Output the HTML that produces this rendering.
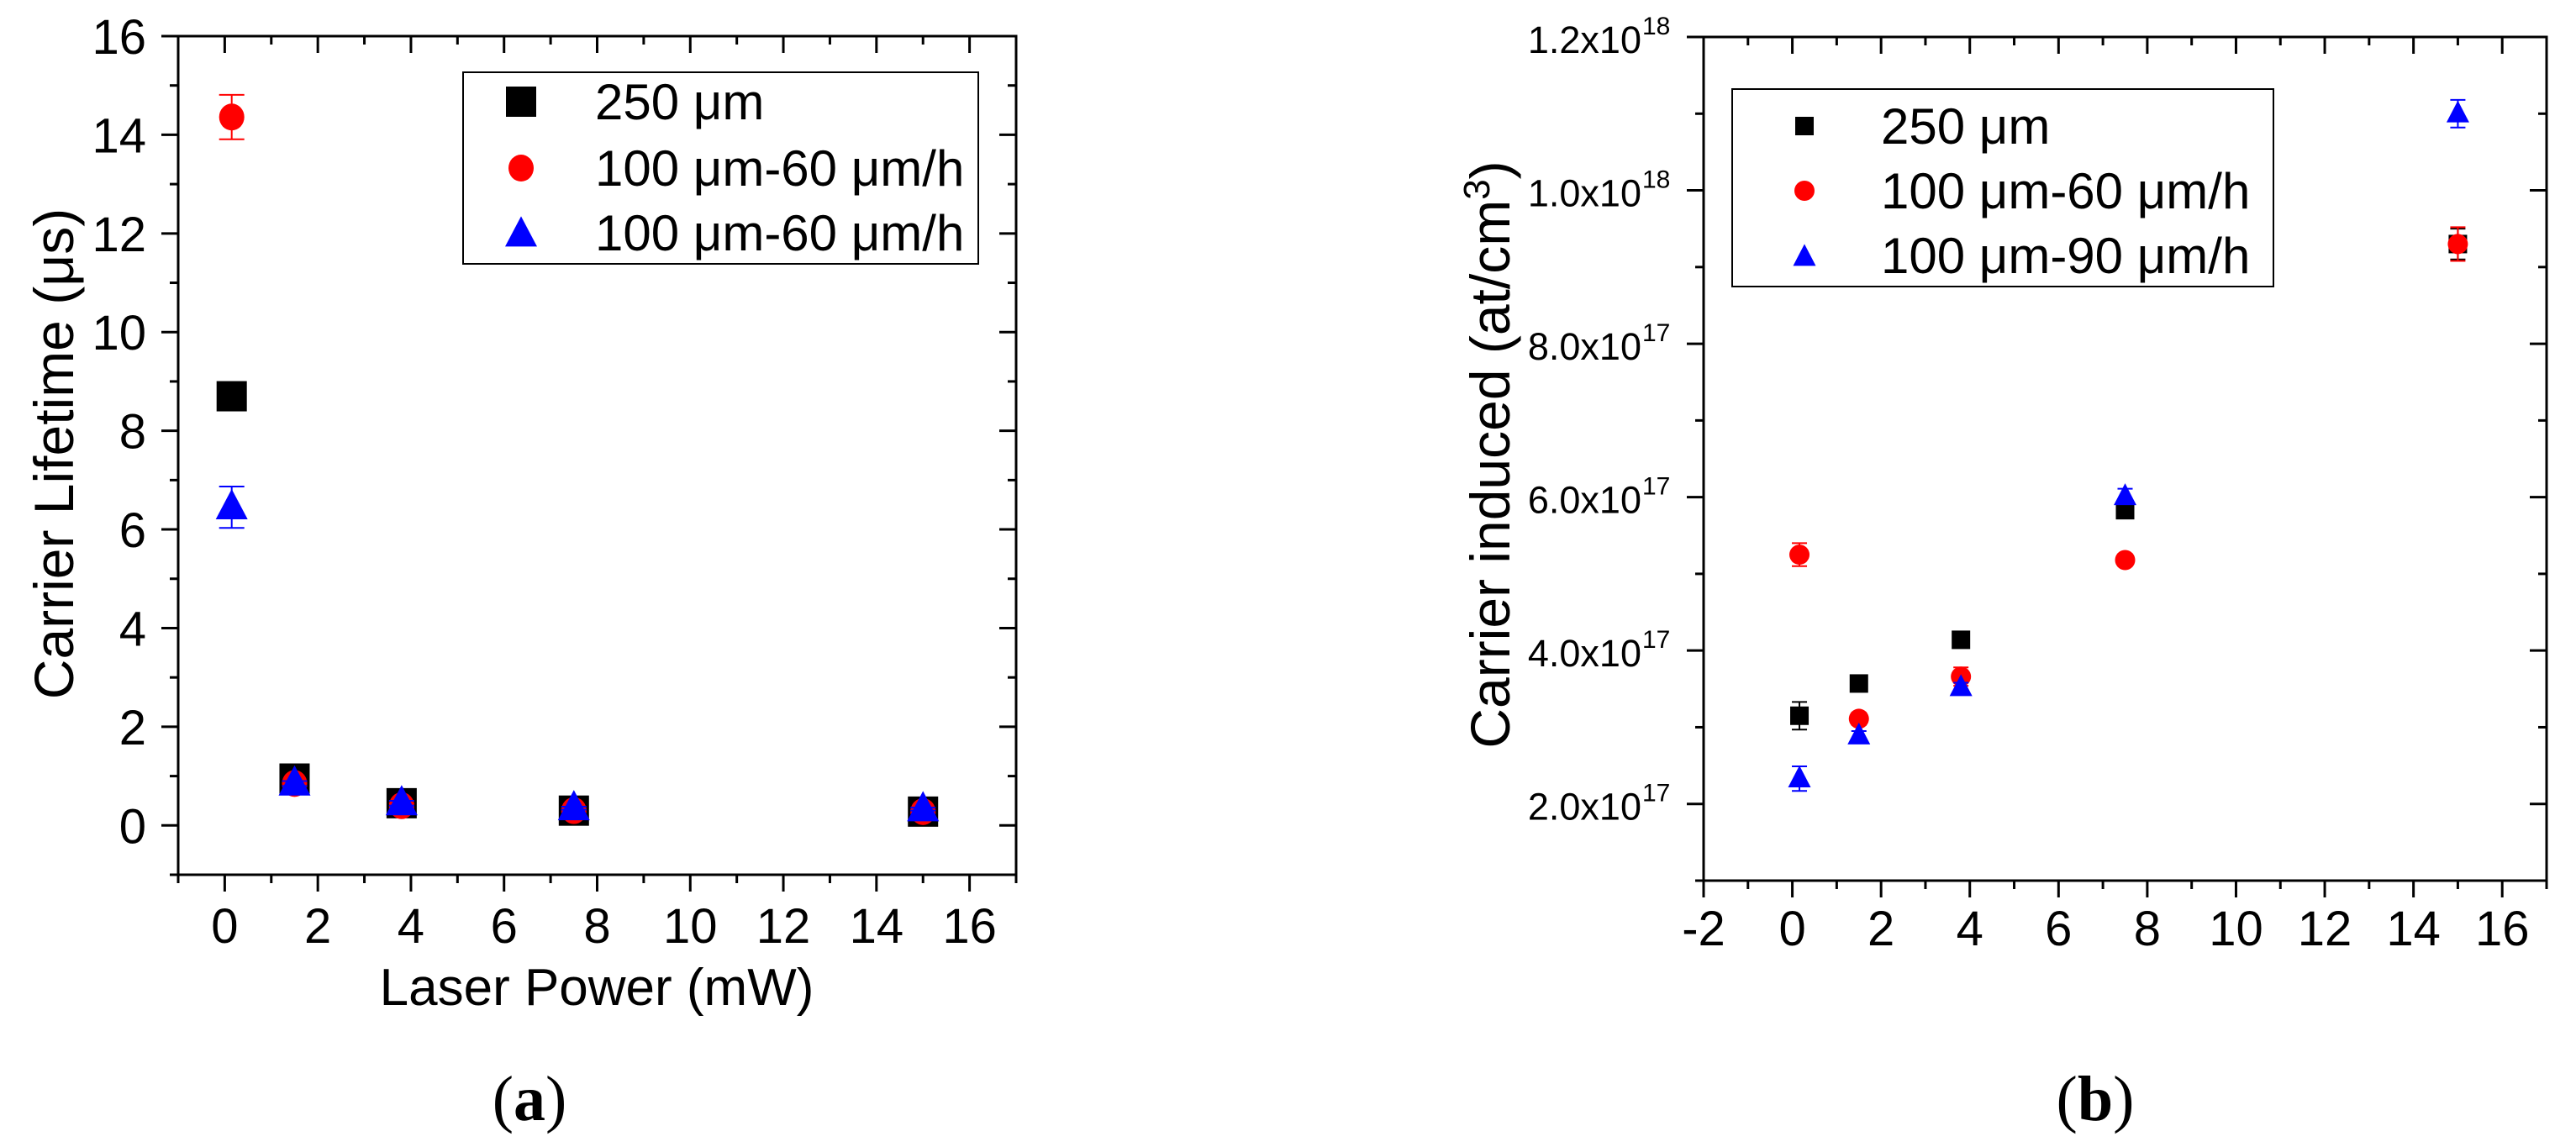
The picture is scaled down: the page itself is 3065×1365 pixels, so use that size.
<!DOCTYPE html>
<html><head><meta charset="utf-8">
<style>
html,body{margin:0;padding:0;background:#fff;}
svg{display:block;}
text{font-family:"Liberation Sans",Arial,sans-serif;fill:#000;}
</style></head>
<body>
<svg id="fig" width="3065" height="1365" viewBox="0 0 3065 1365" xmlns="http://www.w3.org/2000/svg">
<g id="panelA"></g>
<g id="panelB"></g>
<text x="630" y="1333" text-anchor="middle" style="font-family:'Liberation Serif',serif;font-size:76px">(<tspan font-weight="bold">a</tspan>)</text>
<text x="2493" y="1333" text-anchor="middle" style="font-family:'Liberation Serif',serif;font-size:76px">(<tspan font-weight="bold">b</tspan>)</text>
</svg>
<script>
// ---------- Data: panel (a) ----------
const aPower = [0.15, 1.5, 3.8, 7.5, 15];
const aSquare = [8.7, 0.95, 0.45, 0.3, 0.28];
const aCircle = [14.36, 0.85, 0.4, 0.3, 0.28];
const aCircleErr = [0.45, 0.05, 0.05, 0.03, 0.03];
const aTri = [6.45, 0.85, 0.45, 0.35, 0.33];
const aTriErr = [0.42, 0.05, 0.05, 0.03, 0.03];
const aXTicks = [0, 2, 4, 6, 8, 10, 12, 14, 16];
const aYTicks = [0, 2, 4, 6, 8, 10, 12, 14, 16];
// ---------- Data: panel (b) ----------
const bPower = [0.16, 1.5, 3.8, 7.5, 15];
const bSquare = [3.15e17, 3.57e17, 4.14e17, 5.83e17, 9.3e17];
const bSquareErr = [0.18e17, 0.05e17, 0.05e17, 0.05e17, 0.2e17];
const bCircle = [5.25e17, 3.11e17, 3.66e17, 5.18e17, 9.3e17];
const bCircleErr = [0.15e17, 0.08e17, 0.12e17, 0.08e17, 0.22e17];
const bTri = [2.33e17, 2.89e17, 3.52e17, 6.01e17, 1.10e18];
const bTriErr = [0.16e17, 0.06e17, 0.06e17, 0.1e17, 0.18e17];
const bXTicks = [-2, 0, 2, 4, 6, 8, 10, 12, 14, 16];
const bYTickMant = ["2.0", "4.0", "6.0", "8.0", "1.0", "1.2"];
const bYTickExp = ["17", "17", "17", "17", "18", "18"];
const bYTickVals = [2e17, 4e17, 6e17, 8e17, 1e18, 1.2e18];

const NS = "http://www.w3.org/2000/svg";
function mk(parent, tag, attrs, txt) {
  const e = document.createElementNS(NS, tag);
  for (const k in attrs) e.setAttribute(k, attrs[k]);
  if (txt !== undefined) e.textContent = txt;
  parent.appendChild(e);
  return e;
}
function axisFns(x0, x1, px0, px1, y0, y1, py0, py1) {
  return {
    sx: v => px0 + (v - x0) / (x1 - x0) * (px1 - px0),
    sy: v => py0 + (v - y0) / (y1 - y0) * (py1 - py0)
  };
}
function drawFrame(g, L, T, R, B) {
  const f = mk(g, "rect", {x: L, y: T, width: R - L, height: B - T, fill: "none", stroke: "#000", "stroke-width": 3});
  
  
}
function tick(g, x1, y1, x2, y2) {
  mk(g, "line", {x1, y1, x2, y2, stroke: "#000", "stroke-width": 3});
}
function errbar(g, x, yTop, yBot, color, cap) {
  mk(g, "line", {x1: x, y1: yTop, x2: x, y2: yBot, stroke: color, "stroke-width": 2});
  mk(g, "line", {x1: x - cap, y1: yTop, x2: x + cap, y2: yTop, stroke: color, "stroke-width": 2});
  mk(g, "line", {x1: x - cap, y1: yBot, x2: x + cap, y2: yBot, stroke: color, "stroke-width": 2});
}
function square(g, x, y, s) { return mk(g, "rect", {x: x - s / 2, y: y - s / 2, width: s, height: s, fill: "#000"}); }
function circle(g, x, y, rx, ry) { return mk(g, "ellipse", {cx: x, cy: y, rx, ry, fill: "#ff0000"}); }
function tri(g, x, y, w, h) { return mk(g, "polygon", {points: `${x},${y - h * 0.6} ${x - w / 2},${y + h * 0.4} ${x + w / 2},${y + h * 0.4}`, fill: "#0000ff"}); }

// ================= Panel A =================
(function () {
  const g = document.getElementById("panelA");
  const L = 212, R = 1209, T = 43, B = 1041;
  const {sx, sy} = axisFns(-1, 17, L, R, -1, 16, B, T);
  drawFrame(g, L, T, R, B);
  const tg = mk(g, "g", {});
  
  
  for (let v = -1; v <= 17; v++) {
    const x = sx(v), major = v % 2 === 0, len = major ? 20 : 10;
    tick(tg, x, B, x, B + len);
    tick(tg, x, T, x, T + len);
  }
  for (let v = -1; v <= 16; v++) {
    const y = sy(v), major = v % 2 === 0, len = major ? 20 : 10;
    tick(tg, L - len, y, L, y);
    tick(tg, R - len, y, R, y);
  }
  aXTicks.forEach(v => {
    const t = mk(g, "text", {x: sx(v), y: 1122, "text-anchor": "middle", "font-size": 58}, String(v));
    
    
  });
  aYTicks.forEach(v => {
    const t = mk(g, "text", {x: 174, y: sy(v) + 21, "text-anchor": "end", "font-size": 58}, String(v));
    
    
  });
  const xt = mk(g, "text", {x: 710, y: 1196, "text-anchor": "middle", "font-size": 62}, "Laser Power (mW)");
  
  
  const yt = mk(g, "text", {x: 0, y: 0, "text-anchor": "middle", "font-size": 66, transform: "translate(87,540) rotate(-90)"}, "Carrier Lifetime (\u03bcs)");
  
  

  const sg = mk(g, "g", {});
  
  
  aPower.forEach((p, i) => {
    const m = square(sg, sx(p), sy(aSquare[i]), 36);
    
    
  });
  const cg = mk(g, "g", {});
  
  
  aPower.forEach((p, i) => {
    errbar(cg, sx(p), sy(aCircle[i] + aCircleErr[i]), sy(aCircle[i] - aCircleErr[i]), "#ff0000", 15);
    const m = circle(cg, sx(p), sy(aCircle[i]), 15, 16);
    
    
  });
  const bg = mk(g, "g", {});
  
  
  aPower.forEach((p, i) => {
    errbar(bg, sx(p), sy(aTri[i] + aTriErr[i]), sy(aTri[i] - aTriErr[i]), "#0000ff", 15);
    const m = tri(bg, sx(p), sy(aTri[i]), 38, 36);
    
    
  });

  const lg = mk(g, "g", {});
  
  
  mk(lg, "rect", {x: 551, y: 86, width: 613, height: 228, fill: "#fff", stroke: "#000", "stroke-width": 2});
  const rows = [121, 200, 277];
  square(lg, 620, rows[0], 36);
  circle(lg, 620, rows[1], 15, 16);
  tri(lg, 620, rows[2] + 2, 38, 36);
  const labels = ["250 \u03bcm", "100 \u03bcm-60 \u03bcm/h", "100 \u03bcm-60 \u03bcm/h"];
  labels.forEach((s, i) => {
    const t = mk(lg, "text", {x: 708, y: rows[i] + 21, "font-size": 60}, s);
    
    
  });
})();

// ================= Panel B =================
(function () {
  const g = document.getElementById("panelB");
  const L = 2027, R = 3030, T = 44, B = 1048;
  const {sx, sy} = axisFns(-2, 17, L, R, 1e17, 1.2e18, B, T);
  drawFrame(g, L, T, R, B);
  const tg = mk(g, "g", {});
  
  
  for (let v = -2; v <= 17; v++) {
    const x = sx(v), major = v % 2 === 0, len = major ? 20 : 10;
    tick(tg, x, B, x, B + len);
    tick(tg, x, T, x, T + len);
  }
  for (let k = 1; k <= 12; k++) {
    const y = sy(k * 1e17), major = k % 2 === 0, len = major ? 20 : 10;
    tick(tg, L - len, y, L, y);
    tick(tg, R - len, y, R, y);
  }
  bXTicks.forEach(v => {
    const t = mk(g, "text", {x: sx(v), y: 1125, "text-anchor": "middle", "font-size": 58}, String(v));
    
    
  });
  bYTickVals.forEach((v, i) => {
    const y = sy(v);
    const t = mk(g, "text", {x: 1953, y: y + 19, "text-anchor": "end", "font-size": 45}, bYTickMant[i] + "x10");
    
    
    mk(g, "text", {x: 1954, y: y - 3, "font-size": 30}, bYTickExp[i]);
  });
  const yt = mk(g, "text", {x: 0, y: 0, "text-anchor": "middle", "font-size": 66, transform: "translate(1796,541) rotate(-90)"});
  
  
  yt.appendChild(document.createTextNode("Carrier induced (at/cm"));
  mk(yt, "tspan", {dy: -24, "font-size": 44}, "3");
  mk(yt, "tspan", {dy: 24}, ")");

  const sg = mk(g, "g", {});
  
  
  bPower.forEach((p, i) => {
    errbar(sg, sx(p), sy(bSquare[i] + bSquareErr[i]), sy(bSquare[i] - bSquareErr[i]), "#000", 9);
    const m = square(sg, sx(p), sy(bSquare[i]), 22);
    
    
  });
  const cg = mk(g, "g", {});
  
  
  bPower.forEach((p, i) => {
    errbar(cg, sx(p), sy(bCircle[i] + bCircleErr[i]), sy(bCircle[i] - bCircleErr[i]), "#ff0000", 9);
    const m = circle(cg, sx(p), sy(bCircle[i]), 12, 12);
    
    
  });
  const bg = mk(g, "g", {});
  
  
  bPower.forEach((p, i) => {
    errbar(bg, sx(p), sy(bTri[i] + bTriErr[i]), sy(bTri[i] - bTriErr[i]), "#0000ff", 9);
    const m = tri(bg, sx(p), sy(bTri[i]), 27, 26);
    
    
  });

  const lg = mk(g, "g", {});
  
  
  mk(lg, "rect", {x: 2061, y: 106, width: 644, height: 235, fill: "#fff", stroke: "#000", "stroke-width": 2});
  const rows = [150, 227, 304];
  square(lg, 2147, rows[0], 22);
  circle(lg, 2147, rows[1], 12, 12);
  tri(lg, 2147, rows[2] + 2, 27, 26);
  const labels = ["250 \u03bcm", "100 \u03bcm-60 \u03bcm/h", "100 \u03bcm-90 \u03bcm/h"];
  labels.forEach((s, i) => {
    const t = mk(lg, "text", {x: 2238, y: rows[i] + 21, "font-size": 60}, s);
    
    
  });
})();
</script>
</body></html>
